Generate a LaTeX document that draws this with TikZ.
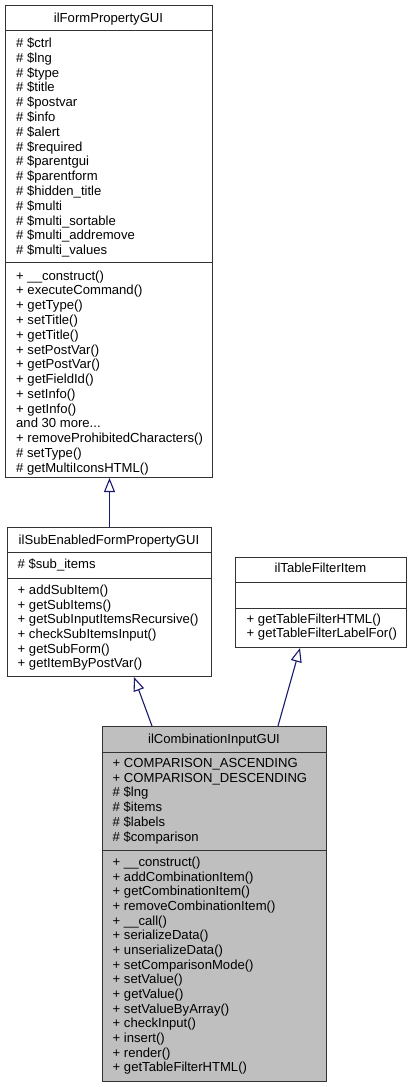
\documentclass[tikz,border=0pt]{standalone}
\usepackage{fontspec}
\setmainfont{Liberation Sans}
\usepackage{tikz}
\usetikzlibrary{arrows.meta}
\definecolor{edgeblue}{HTML}{191970}
\definecolor{boxgray}{HTML}{BFBFBF}
\tikzset{
  classbox/.style={draw=black!80, line width=1pt, inner sep=0pt, anchor=north west},
  sepline/.style={draw=black!80, line width=1pt},
  classtitle/.style={anchor=base, inner sep=0pt, font=\fontsize{13.1}{14.8}\selectfont},
  member/.style={anchor=base west, inner sep=0pt, font=\fontsize{13.1}{14.8}\selectfont},
  inherit/.style={draw=edgeblue, line width=1.1pt, -{Triangle[open, length=14pt, width=11pt]}}
}

\begin{document}
\begin{tikzpicture}[x=1pt, y=-1pt]
\useasboundingbox (0,0) rectangle (411,1087);
% ilFormPropertyGUI
\node[classbox, minimum width=207pt, minimum height=472pt] (fp) at (5,5) {};
\draw[sepline] (5,30.5) -- (212,30.5) (5,262) -- (212,262);
\node[classtitle] (fp-t) at (108.5,22.2) {ilFormPropertyGUI};
\foreach \row [count=\n from 0] in {\# \$ctrl, \# \$lng, \# \$type, \# \$title, \# \$postvar, \# \$info, \# \$alert, \# \$required, \# \$parentgui, \# \$parentform, \# \$hidden\_title, \# \$multi, \# \$multi\_sortable, \# \$multi\_addremove, \# \$multi\_values}
  \node[member] (fp-a\n) at (16,47.5+14.8*\n) {\row};
\foreach \row [count=\n from 0] in {+ \_\_construct(), + executeCommand(), + getType(), + setTitle(), + getTitle(), + setPostVar(), + getPostVar(), + getFieldId(), + setInfo(), + getInfo(), {and 30 more.{}.{}.}, + removeProhibitedCharacters(), \# setType(), \# getMultiIconsHTML()}
  \node[member] (fp-m\n) at (16,280.2+14.77*\n) {\row};

% ilSubEnabledFormPropertyGUI
\node[classbox, minimum width=204pt, minimum height=149pt] (se) at (7,527) {};
\draw[sepline] (7,552.5) -- (211,552.5) (7,578) -- (211,578);
\node[classtitle] (se-t) at (109,544.3) {ilSubEnabledFormPropertyGUI};
\node[member] (se-a0) at (17.5,568.5) {\# \$sub\_items};
\foreach \row [count=\n from 0] in {+ addSubItem(), + getSubItems(), + getSubInputItemsRecursive(), + checkSubItemsInput(), + getSubForm(), + getItemByPostVar()}
  \node[member] (se-m\n) at (17.5,594.5+14.67*\n) {\row};

% ilTableFilterItem
\node[classbox, minimum width=171pt, minimum height=90pt] (tf) at (235,557) {};
\draw[sepline] (235,582) -- (406,582) (235,608) -- (406,608);
\node[classtitle] (tf-t) at (320.5,572.8) {ilTableFilterItem};
\foreach \row [count=\n from 0] in {+ getTableFilterHTML(), + getTableFilterLabelFor()}
  \node[member] (tf-m\n) at (246.5,623+14.7*\n) {\row};

% ilCombinationInputGUI
\node[classbox, fill=boxgray, minimum width=224pt, minimum height=355pt] (ci) at (102,726) {};
\draw[sepline] (102,752) -- (326,752) (102,850) -- (326,850);
\node[classtitle] (ci-t) at (214,743.5) {ilCombinationInputGUI};
\foreach \row [count=\n from 0] in {+ COMPARISON\_ASCENDING, + COMPARISON\_DESCENDING, \# \$lng, \# \$items, \# \$labels, \# \$comparison}
  \node[member] (ci-a\n) at (112.5,767.2+14.8*\n) {\row};
\foreach \row [count=\n from 0] in {+ \_\_construct(), + addCombinationItem(), + getCombinationItem(), + removeCombinationItem(), + \_\_call(), + serializeData(), + unserializeData(), + setComparisonMode(), + setValue(), + getValue(), + setValueByArray(), + checkInput(), + insert(), + render(), + getTableFilterHTML()}
  \node[member] (ci-m\n) at (112.5,866.5+14.66*\n) {\row};

% inheritance
\coordinate (ci-l) at ([xshift=50pt]ci.north west);
\coordinate (ci-r) at ([xshift=-49pt]ci.north east);
\coordinate (se-b) at ([xshift=127pt]se.south west);
\coordinate (tf-b) at ([xshift=65pt]tf.south west);
\draw[inherit] (se.north) -- (se.north |- fp.south);
\draw[inherit] (ci-l) -- (se-b);
\draw[inherit] (ci-r) -- (tf-b);
\end{tikzpicture}
\end{document}
